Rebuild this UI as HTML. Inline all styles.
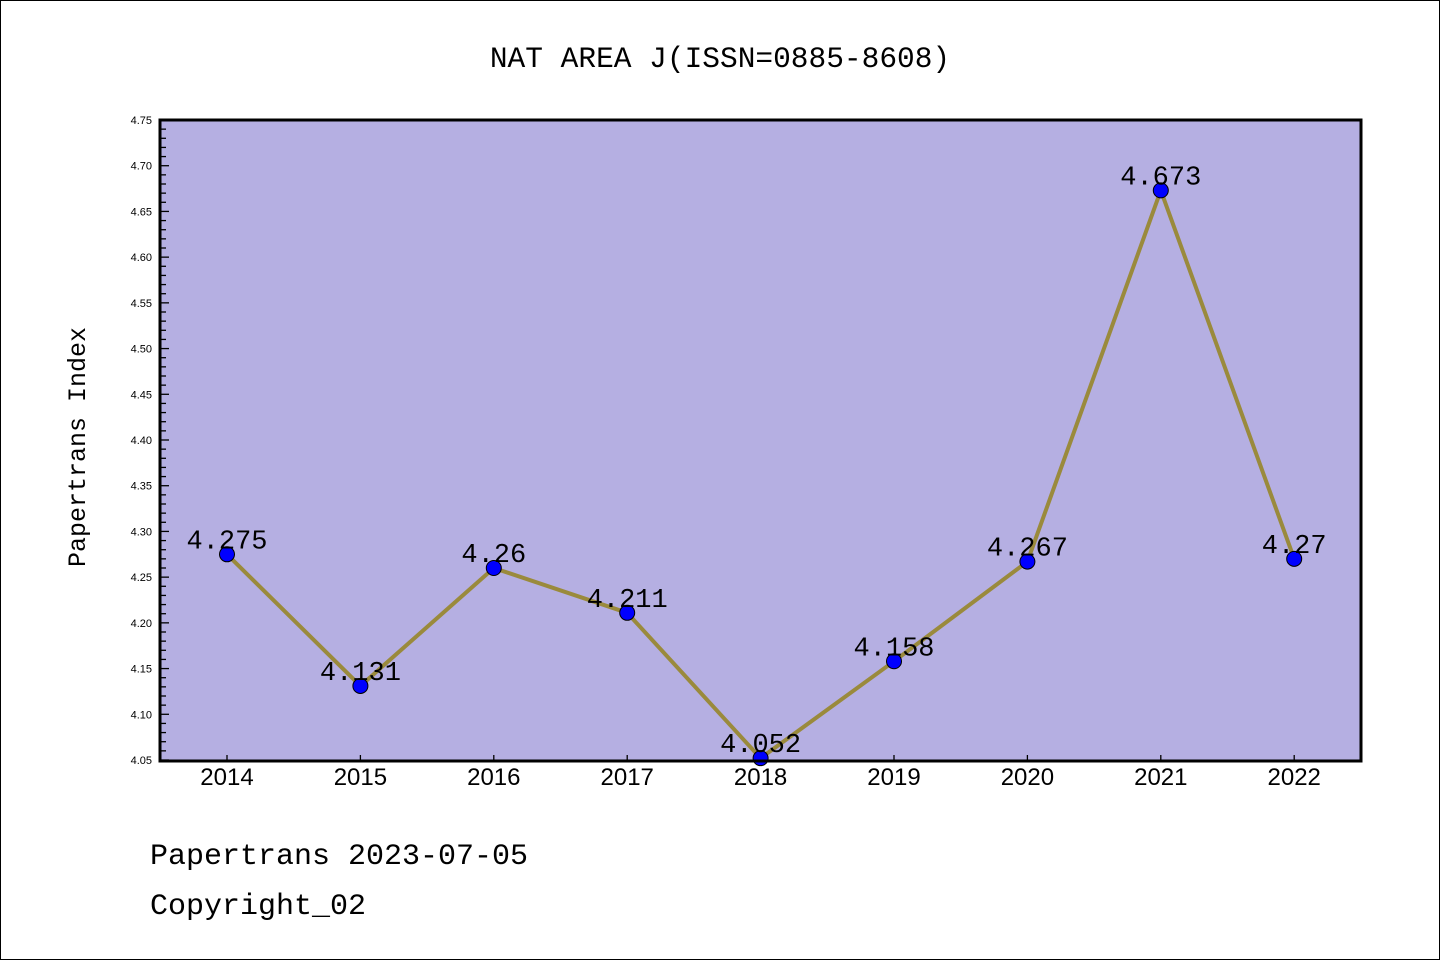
<!DOCTYPE html>
<html><head><meta charset="utf-8"><style>
html,body{margin:0;padding:0;background:#fff;}
svg{display:block;}
</style></head><body>
<svg id="chart" width="1440" height="960" xmlns="http://www.w3.org/2000/svg">
<rect x="0.5" y="0.5" width="1439" height="959" fill="#fff" stroke="#000" stroke-width="1"/>
<text x="720" y="67" text-anchor="middle" font-family="Liberation Mono, monospace" font-size="29.5">NAT AREA J(ISSN=0885-8608)</text>
<rect x="160" y="120" width="1201" height="641" fill="#b5afe2"/>
<g id="yticks"></g><g id="xticks"></g>
<g id="series"></g><g id="labels"></g>
<rect x="160" y="120" width="1201" height="641" fill="none" stroke="#000" stroke-width="3"/>
<text transform="translate(85,447) rotate(-90)" text-anchor="middle" font-family="Liberation Mono, monospace" font-size="25">Papertrans Index</text>
<text x="150" y="864" font-family="Liberation Mono, monospace" font-size="30">Papertrans 2023-07-05</text>
<text x="150" y="914" font-family="Liberation Mono, monospace" font-size="30">Copyright_02</text>
</svg>
<script>
const years = ["2014","2015","2016","2017","2018","2019","2020","2021","2022"];
const values = [4.275,4.131,4.26,4.211,4.052,4.158,4.267,4.673,4.27];
const valueLabels = ["4.275","4.131","4.26","4.211","4.052","4.158","4.267","4.673","4.27"];
const yTickLabels = ["4.05","4.10","4.15","4.20","4.25","4.30","4.35","4.40","4.45","4.50","4.55","4.60","4.65","4.70","4.75"];
const NS="http://www.w3.org/2000/svg";
const yMin=4.05,yMax=4.75,plotTop=120,plotBot=760,plotLeft=160;
function yScale(v){return plotBot-(v-yMin)/(yMax-yMin)*(plotBot-plotTop);}
function xScale(i){return 227+i*133.4;}
function mk(t,a,p){const e=document.createElementNS(NS,t);for(const k in a)e.setAttribute(k,a[k]);p.appendChild(e);return e;}
const yt=document.getElementById('yticks');
for(let k=0;k<=70;k++){const v=yMin+k*0.01;const maj=k%5===0;
 const l=mk('line',{x1:plotLeft,x2:plotLeft+(maj?9:6),y1:yScale(v),y2:yScale(v),stroke:'#000','stroke-width':1.3},yt);
 
 }
yTickLabels.forEach(s=>{const t=mk('text',{x:152,y:yScale(parseFloat(s))+4,'text-anchor':'end','font-family':'Liberation Sans, sans-serif','font-size':11},yt);t.textContent=s;
 
 });
const xt=document.getElementById('xticks');
years.forEach((s,i)=>{const l=mk('line',{x1:xScale(i),x2:xScale(i),y1:761,y2:755,stroke:'#000','stroke-width':1.3},xt);
 
 
 const t=mk('text',{x:xScale(i),y:785,'text-anchor':'middle','font-family':'Liberation Sans, sans-serif','font-size':24},xt);t.textContent=s;
 
 });
const sg=document.getElementById('series');
const pl=mk('polyline',{points:values.map((v,i)=>xScale(i)+','+yScale(v)).join(' '),fill:'none',stroke:'#9a8a3c','stroke-width':4,'stroke-linejoin':'round'},sg);


values.forEach((v,i)=>{const c=mk('circle',{cx:xScale(i),cy:yScale(v),r:7.5,fill:'#0000ff',stroke:'#000','stroke-width':1},sg);
 
 });
const lg=document.getElementById('labels');
valueLabels.forEach((s,i)=>{const t=mk('text',{x:xScale(i),y:yScale(values[i])-6,'text-anchor':'middle','font-family':'Liberation Mono, monospace','font-size':27},lg);t.textContent=s;
 
 });
</script>
</body></html>
